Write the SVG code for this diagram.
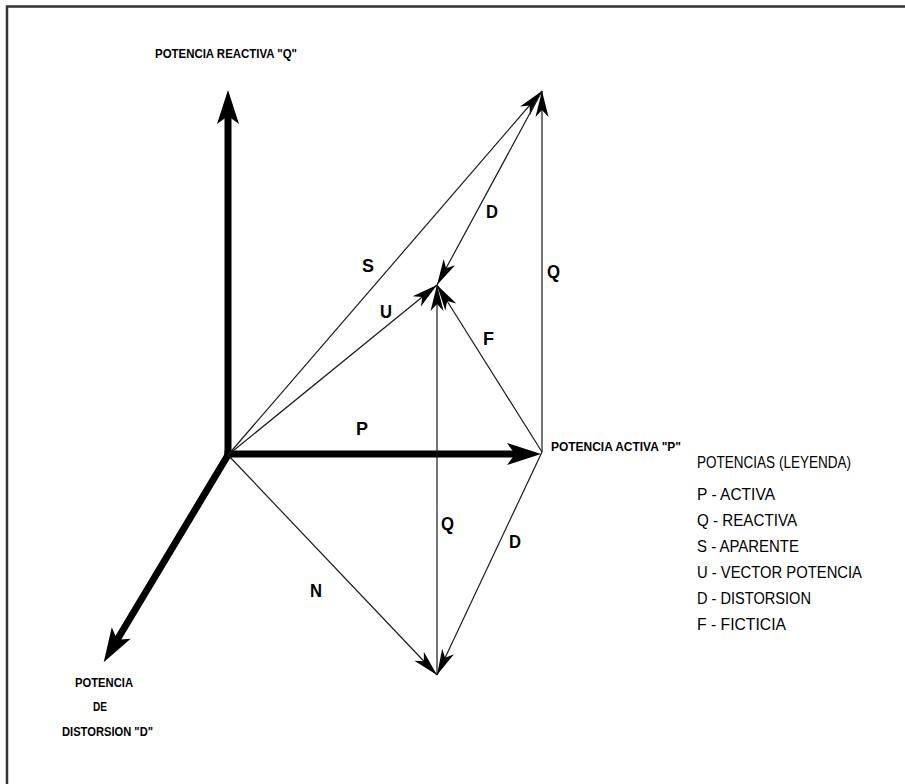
<svg xmlns="http://www.w3.org/2000/svg" width="905" height="784" viewBox="0 0 905 784">
<style>
.thin{stroke:#1a1a1a;stroke-width:1.2;fill:none;marker-end:url(#ah)}
.thick{stroke:#000;stroke-width:7;fill:none;stroke-linecap:square;marker-end:url(#AH)}
.ax{font-family:"Liberation Sans",Arial,sans-serif;font-weight:bold;font-size:13.5px;fill:#000}
.vl{font-family:"Liberation Sans",Arial,sans-serif;font-weight:bold;font-size:19px;fill:#000}
.lg{font-family:"Liberation Sans",Arial,sans-serif;font-size:17px;fill:#000}
</style>
<defs>
<marker id="ah" markerUnits="userSpaceOnUse" viewBox="-28 -8 30 16" markerWidth="30" markerHeight="16" refX="0" refY="0" orient="auto" overflow="visible">
<path d="M0,0 L-26,-6.5 L-19,0 L-26,6.5 Z" fill="#000"/>
</marker>
<marker id="AH" markerUnits="userSpaceOnUse" viewBox="-40 -14 44 28" markerWidth="44" markerHeight="28" refX="-20" refY="0" orient="auto" overflow="visible">
<path d="M0,0 L-34,-11 L-26,0 L-34,11 Z" fill="#000"/>
</marker>
</defs>
<rect width="905" height="784" fill="#fff"/>
<g id="frame">
<path d="M7,784 V6.5 H905" stroke="#333" stroke-width="2.5" fill="none"/>
</g>
<g id="connectors">
<line class="thick" x1="228" y1="455" x2="228" y2="110"/>
<line class="thick" x1="228" y1="454" x2="521" y2="454"/>
<line class="thick" x1="228" y1="455" x2="114" y2="645"/>
<line class="thin" x1="228" y1="455" x2="542" y2="91"/>
<line class="thin" x1="542" y1="452" x2="542" y2="91"/>
<line class="thin" x1="542" y1="91" x2="437" y2="285"/>
<line class="thin" x1="228" y1="455" x2="437" y2="285"/>
<line class="thin" x1="542" y1="452" x2="437" y2="285"/>
<line class="thin" x1="437" y1="675" x2="437" y2="285"/>
<line class="thin" x1="228" y1="455" x2="437" y2="675"/>
<line class="thin" x1="542" y1="452" x2="437" y2="675"/>
</g>
<g id="axis-q"><text class="ax" x="155" y="58" textLength="142" lengthAdjust="spacingAndGlyphs">POTENCIA REACTIVA "Q"</text></g>
<g id="axis-p"><text class="ax" x="551" y="451" textLength="130" lengthAdjust="spacingAndGlyphs">POTENCIA ACTIVA "P"</text></g>
<g id="axis-d">
<text class="ax" x="75" y="687" textLength="58" lengthAdjust="spacingAndGlyphs">POTENCIA</text>
<text class="ax" x="93" y="711" textLength="14" lengthAdjust="spacingAndGlyphs">DE</text>
<text class="ax" x="62" y="736" textLength="91" lengthAdjust="spacingAndGlyphs">DISTORSION "D"</text>
</g>
<g id="labels">
<text class="vl" x="362" y="272" textLength="12" lengthAdjust="spacingAndGlyphs">S</text>
<text class="vl" x="380" y="318" textLength="12" lengthAdjust="spacingAndGlyphs">U</text>
<text class="vl" x="486" y="218" textLength="12" lengthAdjust="spacingAndGlyphs">D</text>
<text class="vl" x="547" y="278" textLength="13" lengthAdjust="spacingAndGlyphs">Q</text>
<text class="vl" x="483" y="345" textLength="11" lengthAdjust="spacingAndGlyphs">F</text>
<text class="vl" x="356" y="435" textLength="12" lengthAdjust="spacingAndGlyphs">P</text>
<text class="vl" x="441" y="530" textLength="13" lengthAdjust="spacingAndGlyphs">Q</text>
<text class="vl" x="509" y="548" textLength="12" lengthAdjust="spacingAndGlyphs">D</text>
<text class="vl" x="310" y="597" textLength="12" lengthAdjust="spacingAndGlyphs">N</text>
</g>
<g id="legend">
<text class="lg" x="697" y="468" textLength="154" lengthAdjust="spacingAndGlyphs">POTENCIAS (LEYENDA)</text>
<text class="lg" x="697" y="500" textLength="78" lengthAdjust="spacingAndGlyphs">P - ACTIVA</text>
<text class="lg" x="697" y="526" textLength="100" lengthAdjust="spacingAndGlyphs">Q - REACTIVA</text>
<text class="lg" x="697" y="552" textLength="102" lengthAdjust="spacingAndGlyphs">S - APARENTE</text>
<text class="lg" x="697" y="578" textLength="165" lengthAdjust="spacingAndGlyphs">U - VECTOR POTENCIA</text>
<text class="lg" x="697" y="604" textLength="114" lengthAdjust="spacingAndGlyphs">D - DISTORSION</text>
<text class="lg" x="697" y="630" textLength="89" lengthAdjust="spacingAndGlyphs">F - FICTICIA</text>
</g>
</svg>
